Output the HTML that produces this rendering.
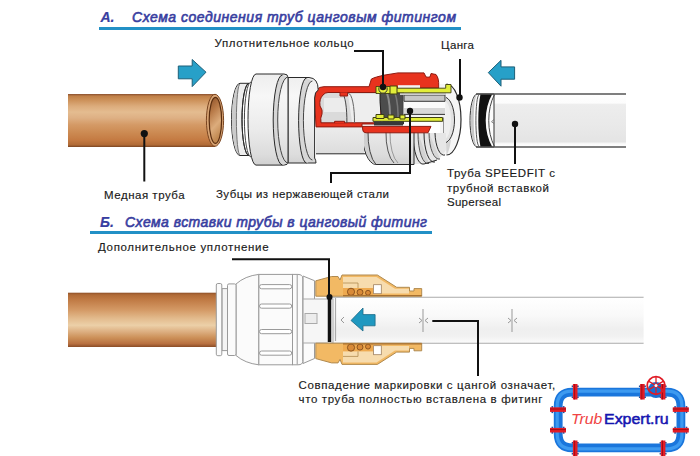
<!DOCTYPE html>
<html><head><meta charset="utf-8">
<style>
html,body{margin:0;padding:0;background:#fff;}
#c{position:relative;width:700px;height:456px;overflow:hidden;background:#fff;}
svg{position:absolute;left:0;top:0;}
.t{font-family:"Liberation Sans",sans-serif;font-size:14px;font-weight:normal;font-style:italic;fill:#383ea0;stroke:#383ea0;stroke-width:0.6px;}
.l{font-family:"Liberation Sans",sans-serif;font-size:11.5px;fill:#1a1a1a;stroke:#1a1a1a;stroke-width:0.15px;}
</style></head><body><div id="c">
<svg width="700" height="456" viewBox="0 0 700 456">
<defs>
<linearGradient id="cu" x1="0" y1="0" x2="0" y2="1">
<stop offset="0" stop-color="#8a5030"/>
<stop offset="0.04" stop-color="#c08048"/>
<stop offset="0.11" stop-color="#cc9058"/>
<stop offset="0.23" stop-color="#dcac7c"/>
<stop offset="0.34" stop-color="#e4bc90"/>
<stop offset="0.45" stop-color="#deb084"/>
<stop offset="0.58" stop-color="#d49a66"/>
<stop offset="0.73" stop-color="#cc8a52"/>
<stop offset="0.87" stop-color="#c47a42"/>
<stop offset="0.96" stop-color="#b06a36"/>
<stop offset="1" stop-color="#7a4422"/>
</linearGradient>
<linearGradient id="cuin" x1="0" y1="0" x2="0.3" y2="1">
<stop offset="0" stop-color="#8a4e26"/>
<stop offset="0.35" stop-color="#b87a48"/>
<stop offset="0.7" stop-color="#dcac7c"/>
<stop offset="1" stop-color="#c08850"/>
</linearGradient>
<linearGradient id="wp" x1="0" y1="0" x2="0" y2="1">
<stop offset="0" stop-color="#ffffff"/>
<stop offset="0.2" stop-color="#f6f6f6"/>
<stop offset="0.6" stop-color="#ececec"/>
<stop offset="0.9" stop-color="#e4e4e4"/>
<stop offset="1" stop-color="#f4f4f4"/>
</linearGradient>
<linearGradient id="wf" x1="0" y1="0" x2="0" y2="1">
<stop offset="0" stop-color="#f2f2f2"/>
<stop offset="0.3" stop-color="#ffffff"/>
<stop offset="0.7" stop-color="#ececec"/>
<stop offset="1" stop-color="#d8d8d8"/>
</linearGradient>
<linearGradient id="bp" x1="0" y1="0" x2="0" y2="1">
<stop offset="0" stop-color="#1a6fd0"/>
<stop offset="0.4" stop-color="#49a3f2"/>
<stop offset="1" stop-color="#1766c4"/>
</linearGradient>
</defs>

<!-- Titles -->
<text class="t" x="100.5" y="22" style="font-weight:bold;stroke-width:0.2px">А.</text>
<text class="t" x="132" y="22" textLength="324" lengthAdjust="spacing">Схема соединения труб цанговым фитингом</text>
<rect x="99" y="27" width="362" height="3" fill="#2290c6"/>
<text class="t" x="100" y="226.6" style="font-weight:bold;stroke-width:0.2px">Б.</text>
<text class="t" x="125" y="226.6" textLength="302" lengthAdjust="spacing">Схема вставки трубы в цанговый фитинг</text>
<rect x="90" y="231" width="342" height="3" fill="#2290c6"/>

<!-- Labels -->
<text class="l" x="214.6" y="47.4" textLength="139" lengthAdjust="spacing">Уплотнительное кольцо</text>
<text class="l" x="441" y="49.3" textLength="33" lengthAdjust="spacing">Цанга</text>
<text class="l" x="104" y="199" textLength="80.6" lengthAdjust="spacing">Медная труба</text>
<text class="l" x="216" y="198.3" textLength="173" lengthAdjust="spacing">Зубцы из нержавеющей стали</text>
<text class="l" x="447" y="177.4" textLength="108" lengthAdjust="spacing">Труба SPEEDFIT с</text>
<text class="l" x="447" y="192" textLength="102" lengthAdjust="spacing">трубной вставкой</text>
<text class="l" x="447" y="206" textLength="54" lengthAdjust="spacing">Superseal</text>
<text class="l" x="98" y="251" textLength="170.6" lengthAdjust="spacing">Дополнительное уплотнение</text>
<text class="l" x="298.5" y="389" textLength="256.8" lengthAdjust="spacing">Совпадение маркировки с цангой означает,</text>
<text class="l" x="298.5" y="402.8" textLength="244" lengthAdjust="spacing">что труба полностью вставлена в фитинг</text>

<!-- Section A: arrows -->
<path d="M178.3,66 L192.2,66 L192.2,59.5 L206,72.2 L192.2,86.6 L192.2,78.8 L178.3,78.8 Z" fill="#27a0c8" stroke="#1d5f78" stroke-width="1"/>
<path d="M514.6,66.9 L501,66.9 L501,60.3 L488.3,72.6 L501,86.2 L501,79.2 L514.6,79.2 Z" fill="#27a0c8" stroke="#1d5f78" stroke-width="1"/>

<!-- Section A: copper pipe -->
<rect x="68" y="94" width="147" height="53" fill="url(#cu)"/>
<ellipse cx="215" cy="120.3" rx="8.6" ry="26" fill="#d8a474" stroke="#7a4520" stroke-width="1"/>
<ellipse cx="215.4" cy="120.3" rx="6.2" ry="23" fill="url(#cuin)" stroke="#5a2e10" stroke-width="1.2"/>

<!-- Section A: white pipe -->
<linearGradient id="wpA" x1="0" y1="94" x2="0" y2="147" gradientUnits="userSpaceOnUse">
<stop offset="0" stop-color="#ffffff"/>
<stop offset="0.17" stop-color="#fcfcfc"/>
<stop offset="0.2" stop-color="#ededed"/>
<stop offset="0.6" stop-color="#e9e9e9"/>
<stop offset="0.9" stop-color="#e4e4e4"/>
<stop offset="0.94" stop-color="#fafafa"/>
<stop offset="1" stop-color="#ffffff"/>
</linearGradient>
<rect x="488" y="94" width="138" height="53" fill="url(#wpA)"/>
<path d="M477.2,94 L494,94 L494,147 L477.2,147 A7.2,26.5 0 0 1 477.2,94 Z" fill="#fbfbfb" stroke="#333" stroke-width="1"/>
<path d="M477.2,95 A6.4,25.5 0 0 0 477.2,146 A3.5,25.5 0 0 1 477.2,95 Z" fill="#c8c8c8" stroke="none"/>
<path d="M479,95 A3.1,25.5 0 0 0 479,146" fill="none" stroke="#444" stroke-width="0.9"/>
<path d="M480.5,94 A8.8,40 0 0 0 480.5,147 L492.3,147 A26.3,40 0 0 1 492.3,94 Z" fill="#111"/>
<path d="M494.5,94.5 A24,40 0 0 0 494.5,146.5" fill="none" stroke="#444" stroke-width="1"/>
<line x1="476" y1="94" x2="626" y2="94" stroke="#555" stroke-width="1.6"/>
<line x1="476" y1="147" x2="626" y2="147" stroke="#555" stroke-width="1.6"/>
<path d="M494,119.5 L491.5,121.7 L494,123.5" fill="none" stroke="#666" stroke-width="0.8"/>
<!-- Section A: fitting -->
<linearGradient id="fb" x1="0" y1="73" x2="0" y2="166" gradientUnits="userSpaceOnUse">
<stop offset="0" stop-color="#ededed"/>
<stop offset="0.25" stop-color="#f7f7f7"/>
<stop offset="0.6" stop-color="#ebebeb"/>
<stop offset="0.88" stop-color="#dcdcdc"/>
<stop offset="1" stop-color="#cfcfcf"/>
</linearGradient>
<g id="fitA" stroke="#2a2a2a" stroke-width="1" stroke-linejoin="round">
 <!-- collet end ring (rightmost) -->
 <path d="M440,84 L446.5,84 A14.5,35.5 0 0 1 446.5,155 L440,155 Z" fill="#f5f5f5" stroke="none"/>
 <path d="M452,120 A8,33 0 0 1 446.5,155 L446,143 A9,22 0 0 0 454.5,120 Z" fill="#d4d4d4" stroke="none"/>
 <path d="M446.5,84 A14.5,35.5 0 0 1 446.5,155" fill="none" stroke-width="1.2"/>
 <path d="M444,97 A10.5,23 0 0 1 444,143 Z" fill="#e2e2e2" stroke="#333"/>
 <path d="M444,101 A7,19 0 0 1 444,139 Z" fill="#efefef" stroke="none"/>
 <!-- ribbed collet rings (lower) -->
 <path d="M410,133 L446,133 L446,150 Q440,160 430,164 L410,164 Z" fill="#e6e6e6" stroke="none"/>
 <path d="M413,133 A10,31 0 0 0 424,164" fill="none"/>
 <path d="M418,133 A10,30 0 0 0 429,163.5" fill="#d2d2d2" stroke="#555"/>
 <path d="M424,133 A10,29 0 0 0 435,162" fill="none"/>
 <path d="M429,133 A10,27 0 0 0 440,159" fill="#d6d6d6" stroke="#555"/>
 <path d="M435,133 A9,24 0 0 0 445,155" fill="none"/>
 <path d="M424,164 L437,160" fill="none"/>
 <!-- cap cylinder under lower red -->
 <path d="M362,130 L414,130 L414,164.5 L376,164.5 A14,34.5 0 0 1 362,130 Z" fill="url(#fb)"/>
 <path d="M363,131 A14,33.5 0 0 0 376,164.5 A12,33.5 0 0 1 368,131 Z" fill="#cfcfcf" stroke="none"/>
 <path d="M368,131 A12,33.5 0 0 0 376,164.5" fill="none" stroke="#444"/>
 <path d="M386,132 A12,31 0 0 0 394,163" fill="none" stroke="#555"/>
 <path d="M390,132 A12,31 0 0 0 398,163" fill="none" stroke="#999"/>
 <!-- lower body under thin red band -->
 <path d="M316,126 L364,126 L364,153.8 L316,153.8 Z" fill="url(#fb)" stroke="none"/>
 <path d="M316,153.8 L366,153.8" fill="none"/>
 <!-- red cutaway -->
 <path d="M314.6,98 Q314.6,86.7 324,86.7 L369,86.7 L371.4,79 Q375,77 385,75 L398,72.9 L424,72.9 L426,77 L430,77 L431,73.5 L436,74.5 Q439,78 438.7,86 L438.7,88 L396,88 L396,94.4 L380,94.4 L380,124 L362,124 L362,126.4 L431,126.4 L428,132.8 L366,132.8 Q362.6,132.8 362.6,129 L362.6,126.9 L316,126.9 Z" fill="#e8331e" stroke="#8e1a10"/>
 <path d="M398,85.2 L420,85.2 L420,88 L398,88 Z" fill="#f4f4f4" stroke="none"/>
 <path d="M425.7,73 L428,77 L430.3,73" fill="#fff" stroke="none"/>
 <!-- interior -->
 <path d="M328,92.5 L380,92.5 L380,122.8 L321,122.8 Q320,118 322,114 Q323,110 320,106 Q319,99 323,95 Q325,92.5 328,92.5 Z" fill="#dadada" stroke="#8a1a10"/>
 <path d="M348,94 L380,94 L380,122 L352,122 Z" fill="#eeeeee" stroke="none"/>
 <path d="M324,98 L346,98 L346,112 L324,112 Z" fill="#ececec" stroke="none"/>
 <path d="M342.3,93.5 A5,28 0 0 1 346.9,122.8" fill="none" stroke="#444"/>
 <path d="M348.4,93.5 A6,28 0 0 1 354.5,122.8" fill="none" stroke="#666"/>
 <path d="M340,92.5 L340,96 L347.6,96 L347.6,92.5" fill="#e8331e" stroke="#8e1a10"/>
 <path d="M334.6,123 L334.6,121.3 L344.6,121.3 L344.6,123" fill="#e8331e" stroke="#8e1a10"/>
 <!-- o-ring dark -->
 <path d="M380,92 L403.4,92 L403.4,124 L384,124 A9,34 0 0 1 380,92 Z" fill="#4c4c4c" stroke="#222"/>
 <path d="M387,93 A7,31 0 0 1 390,123" fill="none" stroke="#8a8a8a" stroke-width="2"/>
 <path d="M395,93 A7,31 0 0 1 398,123" fill="none" stroke="#777" stroke-width="1.5"/>
 <!-- inner tube area -->
 <path d="M403.4,94.4 L446,94.4 L446,117.5 L403.4,117.5 Z" fill="#f2f2f2" stroke="none"/>
 <path d="M404,95 L445,95 L445,101.3 L404,101.3 Z" fill="#c6c6c6" stroke="#3a3a3a"/>
 <path d="M404,102 L445,102 L445,108 L404,108 Z" fill="#fbfbfb" stroke="none"/>
 <path d="M404,108 L445,108 L445,114.4 L404,114.4 Z" fill="#d8d8d8" stroke="none"/>
 <path d="M404,114.4 L445,114.4" fill="none" stroke="#333"/>
 <!-- yellow collet upper -->
 <path d="M400,92.8 L446,92.8 L446,95 L400,95 Z" fill="#cfcfcf" stroke="none"/>
 <path d="M376,86.5 L396.5,86.5 L396.5,88.2 L445.7,88.2 L445.7,84.5 L451,84.5 L451,92.8 L396,92.8 L396,93.5 L376,93.5 Z" fill="#e2ee3a" stroke="#404010" stroke-width="0.9"/>
 <path d="M390,86 L397,86 L397,94 L390,94 Z" fill="#e2ee3a" stroke="#404010"/>
 <circle cx="383" cy="89" r="4.2" fill="#e8f040" stroke="#333"/>
 <!-- yellow collet lower -->
 <path d="M373,117.5 L442.6,117.5 L442.6,121.3 L373,121.3 Z" fill="#e2ee3a" stroke="#404010"/>
 <path d="M374,121.3 L403,121.3 L403,125.5 L374,125.5 Z" fill="#383838" stroke="none"/>
 <rect x="376" y="114.5" width="8" height="4" fill="#e2ee3a" stroke="#404010"/>
 <rect x="388" y="115" width="6" height="4" fill="#e2ee3a" stroke="#404010"/>
 <rect x="400" y="115" width="5" height="4" fill="#e2ee3a" stroke="#404010"/>
 <!-- body2 -->
 <path d="M288,77.5 L309,77.5 Q318.2,78 318.2,90 Q314.6,92 314.6,98 L314.6,158 Q316,160 316,163 L288,163 Z" fill="url(#fb)"/>
 <path d="M306.6,78 A8,42.5 0 0 0 306.6,163 L312.4,160 A9,39.5 0 0 1 312.4,81 Z" fill="#d6d6d6" stroke="none"/>
 <path d="M306.6,78 A8,42.5 0 0 0 306.6,163" fill="none"/>
 <path d="M312.4,81 A9,39.5 0 0 0 312.4,160" fill="none" stroke="#444"/>
 <!-- body1 -->
 <path d="M256,74 L284,74 Q288,74 288,77.5 L288,162 Q288,165.1 284,165.1 L256,165.1 A8,45.5 0 0 1 256,74 Z" fill="url(#fb)"/>
 <path d="M282.5,75 A9.3,45 0 0 0 282.5,165 L288,163 A10.3,43 0 0 1 288,77 Z" fill="#d6d6d6" stroke="none"/>
 <path d="M282.5,75 A9.3,45 0 0 0 282.5,165" fill="none"/>
 <path d="M288,77 A10.3,43 0 0 0 288,163" fill="none" stroke="#444"/>
 <!-- groove between ring1 and body1 -->
 <path d="M251,82 A6.6,37.5 0 0 0 251,157" fill="none" stroke="#444"/>
 <!-- ring1 end cap -->
 <path d="M240,83.3 L249,83.3 A7,36.1 0 0 0 249,155.5 L240,155.5 A8.5,36.1 0 0 1 240,83.3 Z" fill="#eeeeee"/>
 <path d="M240,84 A8.2,35.5 0 0 0 240,155 A3.6,35.5 0 0 1 240,84 Z" fill="#cbcbcb" stroke="none"/>
 <path d="M249,83.3 A7,36.1 0 0 0 249,155.5" fill="none"/>
 <path d="M240,84 A3.6,35.5 0 0 0 240,155" fill="none" stroke="#777"/>
</g>
<!-- Section B: copper pipe -->
<linearGradient id="cu2" x1="0" y1="0" x2="0" y2="1">
<stop offset="0" stop-color="#8e5028"/>
<stop offset="0.04" stop-color="#b06a36"/>
<stop offset="0.13" stop-color="#c07a44"/>
<stop offset="0.32" stop-color="#d49a66"/>
<stop offset="0.47" stop-color="#e2ba8c"/>
<stop offset="0.6" stop-color="#ecd0a8"/>
<stop offset="0.72" stop-color="#dcae80"/>
<stop offset="0.83" stop-color="#cc9058"/>
<stop offset="0.94" stop-color="#b87040"/>
<stop offset="1" stop-color="#8a4c26"/>
</linearGradient>
<rect x="68" y="292.7" width="149" height="54.3" fill="url(#cu2)"/>
<!-- Section B: white pipe -->
<linearGradient id="wpB" x1="0" y1="297" x2="0" y2="343" gradientUnits="userSpaceOnUse">
<stop offset="0" stop-color="#ffffff"/>
<stop offset="0.4" stop-color="#f9f9f9"/>
<stop offset="0.7" stop-color="#efefef"/>
<stop offset="0.85" stop-color="#f1f1f1"/>
<stop offset="1" stop-color="#fbfbfb"/>
</linearGradient>
<rect x="320" y="296.6" width="323.6" height="46.6" fill="url(#wpB)"/>
<line x1="330" y1="297.2" x2="643.6" y2="297.2" stroke="#aaa" stroke-width="1.1"/>
<line x1="330" y1="343.2" x2="643.6" y2="343.2" stroke="#aaa" stroke-width="1.1"/>
<line x1="335.5" y1="298" x2="335.5" y2="341" stroke="#aaa" stroke-width="1.2"/>
<!-- markings -->
<g stroke="#999" stroke-width="1" fill="none">
 <line x1="423" y1="309" x2="423" y2="332"/>
 <path d="M419,318 L422,320.5 L419,323"/>
 <path d="M428,318 L425,320.5 L428,323"/>
 <line x1="512" y1="309" x2="512" y2="332"/>
 <path d="M508,318 L511,320.5 L508,323"/>
 <path d="M517,318 L514,320.5 L517,323"/>
 <path d="M344,317 L341,320 L344,323"/>
</g>
<!-- blue arrow B -->
<path d="M375.1,314.6 L363,314.6 L363,308 L351,320.5 L363,331 L363,325.8 L375.1,325.8 Z" fill="#1f98c0" stroke="#1a6a88" stroke-width="0.8"/>
<!-- Section B: fitting left (white) -->
<g stroke="#9a9a9a" stroke-width="1" fill="#fbfbfb">
 <path d="M303,276 L314.5,280.7 L314.5,358.5 L303,363.5 Z"/>
 <rect x="303" y="299" width="30" height="44" fill="#f6f6f6" stroke="#aaa"/>
 <rect x="305" y="313.5" width="12" height="10" fill="#ececec" stroke="#aaa"/>
 <path d="M292.5,364.8 L292.5,274.4 L298,274.4 Q302.7,274.6 302.7,278 L302.7,361.5 Q302.7,364.8 298,364.8 Z"/>
 <line x1="297.2" y1="275" x2="297.2" y2="364.5"/>
 <rect x="258.7" y="274.4" width="33.8" height="90.4"/>
 <path d="M236,284 Q245,276 258.7,274.4 L258.7,364.8 Q245,363.2 236,355.5 Z"/>
 <rect x="222" y="288.6" width="6" height="62" fill="#f4f4f4"/>
 <rect x="227.5" y="283.9" width="8.5" height="71.6" rx="1.5"/>
 <rect x="216.3" y="283.5" width="5.5" height="72.2" rx="1.5"/>
 <rect x="259.5" y="284.6" width="32.2" height="4.2" rx="2.1" fill="#fff"/>
 <rect x="259.5" y="304" width="32.2" height="4.2" rx="2.1" fill="#fff"/>
 <rect x="259.5" y="329.5" width="32.2" height="4.2" rx="2.1" fill="#fff"/>
 <rect x="259.5" y="351" width="32.2" height="4.2" rx="2.1" fill="#fff"/>
</g>
<!-- Section B: orange cutaway -->
<g id="orU">
 <path d="M315.8,280.8 L331.6,276.5 L338,276.5 L340,280 L342,275 L377.4,275 L396.7,287.3 L409.5,287.3 L409.5,291 L414,291 L414,288.6 L421.7,288.6 L421.7,296.2 L315.8,296.2 Z" fill="#f2b964" stroke="#b08a50" stroke-width="1"/>
 <path d="M343,277 L376.5,277 L395,288.8 L409,288.8 L409,293.5 L343,293.5 Z" fill="#f7dcae"/>
 <path d="M343,288 L373,288 L373,295.5 L343,295.5 Z" fill="#eeaa50"/>
 <path d="M343,283 L358,283 L358,288" fill="none" stroke="#b08a50" stroke-width="0.8"/>
 <g fill="#d88a38" stroke="#7a4518" stroke-width="0.8">
  <circle cx="351" cy="291.8" r="3.6"/><circle cx="360" cy="292.3" r="3"/><circle cx="368" cy="292.8" r="2.5"/>
 </g>
 <rect x="373.6" y="284.7" width="7.7" height="9" fill="#fff" stroke="#a08060" stroke-width="0.8"/>
 <line x1="343" y1="295.6" x2="421.7" y2="295.6" stroke="#a87030" stroke-width="1.2"/>
</g>
<use href="#orU" transform="translate(0,639.4) scale(1,-1)"/>
<!-- leaders B -->
<g stroke="#111" stroke-width="2" fill="none">
 <path d="M232,259.3 L329,259.3 L329,342"/>
 <path d="M432.3,321 L478,321 L478,376"/>
</g>
<line x1="329.5" y1="297" x2="329.5" y2="342" stroke="#111" stroke-width="3.5"/>
<circle cx="329.5" cy="297" r="3" fill="#111"/>

<!-- Logo -->
<g id="logo">
 <path d="M572,392.2 L667,392.2 Q680.9,392.2 680.9,406 L680.9,434 Q680.9,447.8 667,447.8 L572,447.8 Q558.2,447.8 558.2,434 L558.2,406 Q558.2,392.2 572,392.2 Z" fill="none" stroke="#1a76dc" stroke-width="8.8"/>
 <path d="M572,391.2 L667,391.2 Q681.9,391.2 681.9,406 L681.9,434 Q681.9,448.8 667,448.8 L572,448.8 Q557.2,448.8 557.2,434 L557.2,406 Q557.2,391.2 572,391.2 Z" fill="none" stroke="#3d9af0" stroke-width="3.2"/>
 <circle cx="656" cy="390" r="8" fill="#1a70d0"/>
 <rect x="571.7" y="385.5" width="7" height="1.6" fill="#1d4f9e"/><rect x="571.7" y="396.4" width="7" height="1.6" fill="#1d4f9e"/><rect x="572.9" y="384" width="4.6" height="15.5" fill="#e41c26"/><line x1="574.6" y1="384" x2="574.6" y2="399.5" stroke="#9a0a14" stroke-width="0.9"/><rect x="638.9" y="385.5" width="7" height="1.6" fill="#1d4f9e"/><rect x="638.9" y="396.4" width="7" height="1.6" fill="#1d4f9e"/><rect x="640.1" y="384" width="4.6" height="15.5" fill="#e41c26"/><line x1="641.8" y1="384" x2="641.8" y2="399.5" stroke="#9a0a14" stroke-width="0.9"/><rect x="659.6" y="385.5" width="7" height="1.6" fill="#1d4f9e"/><rect x="659.6" y="396.4" width="7" height="1.6" fill="#1d4f9e"/><rect x="660.8" y="384" width="4.6" height="15.5" fill="#e41c26"/><line x1="662.5" y1="384" x2="662.5" y2="399.5" stroke="#9a0a14" stroke-width="0.9"/><rect x="571.7" y="442.0" width="7" height="1.6" fill="#1d4f9e"/><rect x="571.7" y="452.9" width="7" height="1.6" fill="#1d4f9e"/><rect x="572.9" y="440.5" width="4.6" height="15.5" fill="#e41c26"/><line x1="574.6" y1="440.5" x2="574.6" y2="456" stroke="#9a0a14" stroke-width="0.9"/><rect x="659.6" y="442.0" width="7" height="1.6" fill="#1d4f9e"/><rect x="659.6" y="452.9" width="7" height="1.6" fill="#1d4f9e"/><rect x="660.8" y="440.5" width="4.6" height="15.5" fill="#e41c26"/><line x1="662.5" y1="440.5" x2="662.5" y2="456" stroke="#9a0a14" stroke-width="0.9"/><rect x="551.5" y="406.1" width="1.6" height="7" fill="#1d4f9e"/><rect x="562.9" y="406.1" width="1.6" height="7" fill="#1d4f9e"/><rect x="550.0" y="407.3" width="16" height="4.6" fill="#e41c26"/><line x1="550" y1="409.0" x2="566" y2="409.0" stroke="#9a0a14" stroke-width="0.9"/><rect x="551.5" y="426.7" width="1.6" height="7" fill="#1d4f9e"/><rect x="562.9" y="426.7" width="1.6" height="7" fill="#1d4f9e"/><rect x="550.0" y="427.9" width="16" height="4.6" fill="#e41c26"/><line x1="550" y1="429.6" x2="566" y2="429.6" stroke="#9a0a14" stroke-width="0.9"/><rect x="674.3" y="406.1" width="1.6" height="7" fill="#1d4f9e"/><rect x="685.7" y="406.1" width="1.6" height="7" fill="#1d4f9e"/><rect x="672.8" y="407.3" width="16" height="4.6" fill="#e41c26"/><line x1="672.8" y1="409.0" x2="688.8" y2="409.0" stroke="#9a0a14" stroke-width="0.9"/><rect x="674.3" y="426.7" width="1.6" height="7" fill="#1d4f9e"/><rect x="685.7" y="426.7" width="1.6" height="7" fill="#1d4f9e"/><rect x="672.8" y="427.9" width="16" height="4.6" fill="#e41c26"/><line x1="672.8" y1="429.6" x2="688.8" y2="429.6" stroke="#9a0a14" stroke-width="0.9"/>
 <g stroke="#e01c26" fill="none">
  <circle cx="656" cy="385.5" r="8.8" stroke-width="1.8"/>
  <path d="M656,376.7 L656,394.3 M648.4,381.1 L663.6,389.9 M648.4,389.9 L663.6,381.1" stroke-width="1.3"/>
 </g>
 <circle cx="656" cy="385.5" r="1.5" fill="#fff"/>
 <text x="571" y="424.2" font-family="Liberation Sans, sans-serif" font-size="15" font-style="italic" fill="#f04444" textLength="31.4" lengthAdjust="spacingAndGlyphs">Trub</text>
 <text x="604" y="424.2" font-family="Liberation Sans, sans-serif" font-size="15" fill="#1414b0" stroke="#1414b0" stroke-width="0.5" textLength="64.7" lengthAdjust="spacingAndGlyphs">Expert.ru</text>
</g>
<!-- leaders A -->
<g stroke="#111" stroke-width="2" fill="none">
 <path d="M144.3,134 L144.3,181.5"/>
 <path d="M354,51 L383,51 L383,88"/>
 <path d="M460,59 L460,97"/>
 <path d="M410,111 L410,173 L331,173 L331,183"/>
 <path d="M515,124 L515,164"/>
</g>
<g fill="#111">
 <circle cx="144.3" cy="133.6" r="3.6"/>
 <circle cx="383" cy="87" r="3.2"/>
 <circle cx="459.5" cy="97.5" r="3.2"/>
 <circle cx="410" cy="111" r="3.2"/>
 <circle cx="515" cy="124" r="3.2"/>
</g>
</svg>
</div></body></html>
